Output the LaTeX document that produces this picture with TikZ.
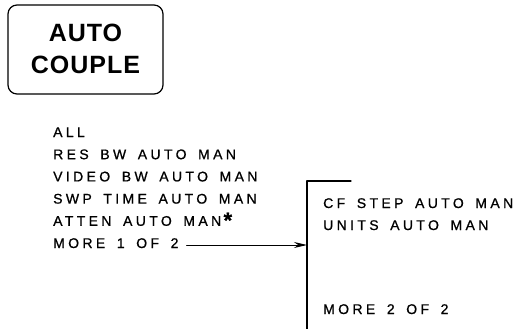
\documentclass[tikz,border=0pt]{standalone}
\usepackage{fontspec}
\setmainfont{Liberation Sans}
\newfontfamily\menufont[LetterSpace=24,WordSpace=1.6,FakeBold=0.8]{Liberation Sans}
\newfontfamily\keyfont[LetterSpace=4]{Liberation Sans}
\usetikzlibrary{arrows.meta}
\begin{document}
\begin{tikzpicture}[x=1pt,y=-1pt,line join=round,line cap=round,>={Stealth[length=13pt,width=6pt]},
	keybox/.style={draw,line width=1.2pt,rounded corners=9pt,minimum width=155pt,minimum height=89pt,align=center,font=\keyfont\fontsize{25}{32}\selectfont\bfseries},
	menu/.style={anchor=base west,inner sep=0pt,font=\menufont\fontsize{14}{22}\selectfont}]
	\useasboundingbox (0,0) rectangle (519,329);
	% softkey
	\node[keybox] (key) at (85.5,49.5) {\raisebox{2pt}{AUTO}\\\raisebox{2pt}{COUPLE}};
	% menu 1 of 2
	\foreach \txt [count=\i] in {ALL,RES BW AUTO MAN,VIDEO BW AUTO MAN,SWP TIME AUTO MAN,ATTEN AUTO MAN\,\raisebox{-2pt}{\fontsize{22}{22}\selectfont\bfseries*},MORE 1 OF 2}
		\node[menu] (ma\i) at (53,{114.8+22.2*\i}) {\txt};
	% menu 2 of 2
	\coordinate (bar) at (307,181);
	\draw[line width=1.2pt] (bar) ++(44,0) -- (bar) -- (307,329);
	\node[menu] (mb1) at (323,208) {CF STEP AUTO MAN};
	\node[menu] (mb2) at (323,230) {UNITS AUTO MAN};
	\node[menu] (mb3) at (323,314) {MORE 2 OF 2};
	\draw[->,line width=1pt] ([xshift=8pt,yshift=3pt]ma6.base east) coordinate (arr) -- (arr -| bar);
\end{tikzpicture}
\end{document}
